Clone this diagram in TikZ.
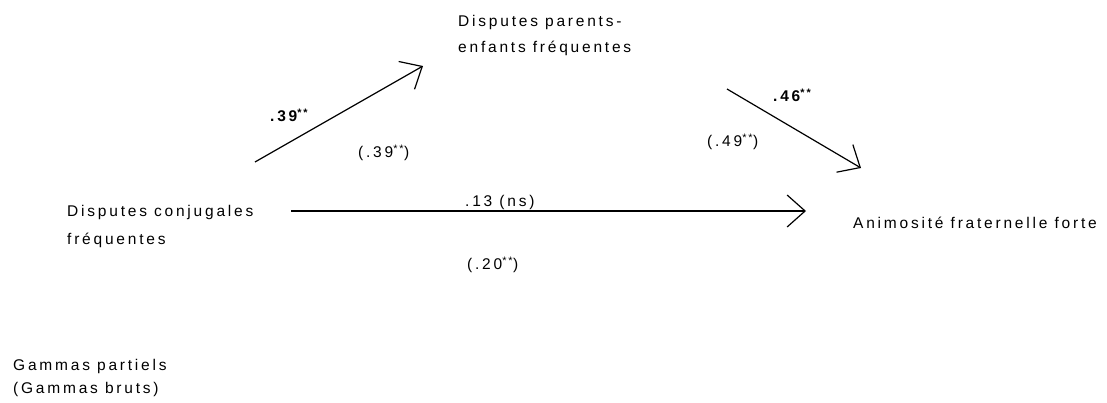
\documentclass[tikz,border=0pt]{standalone}
\usepackage{fontspec}
\setmainfont{Liberation Sans}[LetterSpace=18]
\usetikzlibrary{arrows.meta}
\begin{document}
\begin{tikzpicture}[x=1pt,y=-1pt,
  lbl/.style={anchor=west,inner sep=0pt,align=left,font=\fontsize{15.5}{26}\selectfont},
  coef/.style={anchor=west,inner sep=0pt,font=\fontsize{15.5}{26}\selectfont},
  path/.style={line width=1.2pt,-{Straight Barb[length=18pt,width=32pt,line width=1.2pt]}}]
\useasboundingbox (0,0) rectangle (1107,402);
% variables
\node[lbl] (par) at (458,35) {Disputes parents-\\enfants fréquentes};
\node[lbl,font=\fontsize{15.5}{28}\selectfont] (conj) at (67,226) {Disputes conjugales\\fréquentes};
\node[lbl] (anim) at (853,223) {Animosité fraternelle forte};
\node[lbl,font=\fontsize{15.5}{23}\selectfont] (legend) at (13,378) {Gammas partiels\\(Gammas bruts)};
% connector ends
\coordinate (a1s) at (255,162);
\coordinate (a1e) at (423,66);
\coordinate (a2s) at (727,89);
\coordinate (a2e) at (861,168);
\coordinate (a3s) at (291,211);
\coordinate (a3e) at (806,211);
\draw[path] (a1s) -- (a1e);
\draw[path] (a2s) -- (a2e);
\draw[path] (a3s) -- (a3e);
% coefficients
\node[coef] (c1) at (270,115) {\textbf{.39\textsuperscript{**}}};
\node[coef] (c1b) at (358,153) {(.39\textsuperscript{**})};
\node[coef] (c2) at (773,95) {\textbf{.46\textsuperscript{**}}};
\node[coef] (c2b) at (707,142) {(.49\textsuperscript{**})};
\node[coef] (c3) at (465,202) {.13 (ns)};
\node[coef] (c3b) at (467,265) {(.20\textsuperscript{**})};
\end{tikzpicture}
\end{document}
